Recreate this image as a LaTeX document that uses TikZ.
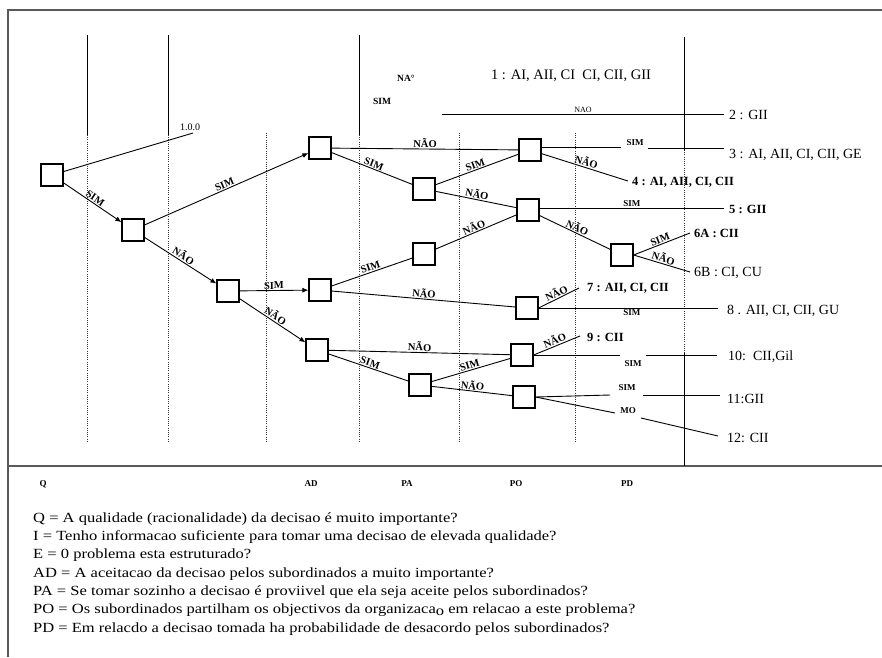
\documentclass[tikz,border=0pt]{standalone}
\usepackage{fontspec}
\setmainfont{Liberation Serif}
\newfontfamily\qfont[FakeStretch=1.18]{Liberation Serif}
\usetikzlibrary{arrows.meta}
\begin{document}
\begin{tikzpicture}[x=1pt,y=-1pt,
  box/.style={draw, line width=1.2pt, minimum size=22pt, inner sep=0pt},
  conn/.style={line width=0.9pt},
  arr/.style={conn, -{Latex[length=6pt,width=5pt]}},
  lab/.style={font=\fontsize{10.5}{11}\selectfont\bfseries, sloped, above, inner sep=1pt},
  small/.style={font=\fontsize{9}{10}\selectfont\bfseries, inner sep=1pt},
  outc/.style={anchor=west, font=\fontsize{14}{15}\selectfont, inner sep=0pt},
  outb/.style={anchor=west, font=\fontsize{12.5}{14}\selectfont\bfseries, inner sep=0pt},
  qtext/.style={anchor=base west, font=\qfont\fontsize{14}{15}\selectfont, inner sep=0pt},
  vdot/.style={line width=0.8pt, dash pattern=on 1pt off 1.2pt, black!80},
  vsol/.style={line width=0.9pt},
  framel/.style={line width=1.6pt, black!65},
]
\useasboundingbox (0,0) rectangle (882,657);
% frame
\coordinate (f1) at (882,10); \coordinate (f2) at (8,10); \coordinate (f3) at (8,657);
\coordinate (f4) at (8,466); \coordinate (f5) at (882,466);
\draw[framel] (f1) -- (f2) -- (f3);
\draw[framel] (f4) -- (f5);
% vertical lines
\foreach \x in {87,168,359}{
  \draw[vsol] (\x,35) -- (\x,135);
  \draw[vdot] (\x,135) -- (\x,443);
}
\draw[vdot] (266,133) -- (266,443);
\draw[vdot] (459,133) -- (459,443);
\draw[vdot] (575,133) -- (575,443);
\draw[vsol] (684,37) -- (684,150);
\draw[vdot] (684,150) -- (684,353);
\draw[vsol] (684,353) -- (684,466);
% nodes
\node[box] (n1) at (52,175) {};
\node[box] (n2) at (133,230) {};
\node[box] (n3) at (320,148) {};
\node[box] (n4) at (424,189) {};
\node[box] (n5) at (228,291) {};
\node[box] (n6) at (320,290) {};
\node[box] (n7) at (317,350) {};
\node[box] (n8) at (424,254) {};
\node[box] (n9) at (420,385) {};
\node[box] (n10) at (530,150) {};
\node[box] (n11) at (528,210) {};
\node[box] (n12) at (622,255) {};
\node[box] (n13) at (527,308) {};
\node[box] (n14) at (522,355) {};
\node[box] (n15) at (524,397) {};
% tree connectors
\coordinate (c100) at (193,133);
\draw[conn] (n1) -- (c100);
\node[font=\fontsize{10}{10}\selectfont] (t100) at (190,127) {1.0.0};
\draw[arr] (n1) -- node[lab]{SIM} (n2);
\draw[arr] (n2) -- node[lab]{SIM} (n3);
\draw[arr] (n2) -- node[lab]{NÃO} (n5);
\draw[arr] (n5) -- node[lab]{SIM} (n6);
\draw[arr] (n5) -- node[lab]{NÃO} (n7);
\draw[conn] (n3) -- node[lab]{NÃO} (n10);
\draw[conn] (n3) -- node[lab]{SIM} (n4);
\draw[conn] (n4) -- node[lab]{SIM} (n10);
\draw[conn] (n4) -- node[lab]{NÃO} (n11);
\draw[conn] (n8) -- node[lab]{NÃO} (n11);
\draw[conn] (n6) -- node[lab]{SIM} (n8);
\draw[conn] (n6) -- node[lab]{NÃO} (n13);
\draw[conn] (n7) -- node[lab]{NÃO} (n14);
\draw[conn] (n7) -- node[lab]{SIM} (n9);
\draw[conn] (n9) -- node[lab]{SIM} (n14);
\draw[conn] (n9) -- node[lab]{NÃO} (n15);
\draw[conn] (n11) -- node[lab]{NÃO} (n12);
% top texts
\node[small, font=\fontsize{9.5}{10}\selectfont\bfseries] (tna) at (406,78) {NA°};
\node[small, font=\fontsize{9.5}{10}\selectfont\bfseries] (tsim0) at (382,101) {SIM};
\node[font=\fontsize{14.5}{15}\selectfont] (t1) at (571,76) {1 : AI, AII, CI\ \ CI, CII, GII};
% outcome 2
\coordinate (s2) at (442,114); \coordinate (e2) at (724,114);
\draw[conn] (s2) -- node[small, above, font=\fontsize{8}{8}\selectfont]{NAO} (e2);
\node[outc] (t2) at (729,115) {2 : GII};
% outcome 3
\coordinate (g3a) at (621,147); \coordinate (g3b) at (648,148); \coordinate (e3) at (724,148);
\draw[conn] ([yshift=3pt]n10.east) -- (g3a);
\draw[conn] (g3b) -- (e3);
\node[small] (l3) at (635,143) {SIM};
\node[outc] (t3) at (729,155) {3 : AI, AII, CI, CII, GE};
% outcome 4
\coordinate (e4) at (628,181);
\draw[conn] (n10) -- node[lab]{NÃO} (e4);
\node[outb] (t4) at (632,182) {4 : AI, AII, CI, CII};
% outcome 5
\coordinate (e5) at (724,208);
\draw[conn] ([yshift=2pt]n11.east) -- node[small, above]{SIM} (e5);
\node[outb] (t5) at (729,209) {5 : GII};
% outcome 6A/6B
\coordinate (e6a) at (690,233); \coordinate (e6b) at (690,272);
\draw[conn] (n12.east) -- node[lab]{SIM} (e6a);
\draw[conn] (n12.east) -- node[lab]{NÃO} (e6b);
\node[outb] (t6a) at (694,233) {6A : CII};
\node[outc] (t6b) at (694,273) {6B : CI, CU};
% outcome 7/8
\coordinate (e7) at (579,288); \coordinate (e8) at (718,308);
\draw[conn] (n13.east) -- node[lab]{NÃO} (e7);
\draw[conn] (n13.east) -- node[small, below, pos=0.52]{SIM} (e8);
\node[outb] (t7) at (587,288) {7 : AII, CI, CII};
\node[outc] (t8) at (727,311) {8 . AII, CI, CII, GU};
% outcome 9/10
\coordinate (e9) at (580,336);
\draw[conn] (n14.east) -- node[lab]{NÃO} (e9);
\node[outb] (t9) at (587,337) {9 : CII};
\coordinate (g10a) at (620,355); \coordinate (g10b) at (646,355); \coordinate (e10) at (717,355);
\draw[conn] (n14.east) -- (g10a);
\draw[conn] (g10b) -- (e10);
\node[small] (l10) at (633,364) {SIM};
\node[outc] (t10) at (728,357) {10:\ \ CII,Gil};
% outcome 11
\coordinate (g11a) at (610,395); \coordinate (g11b) at (643,395); \coordinate (e11) at (720,395);
\draw[conn] (n15.east) -- (g11a);
\draw[conn] (g11b) -- (e11);
\node[small] (l11) at (627,388) {SIM};
\node[outc] (t11) at (727,399) {11:GII};
% outcome 12
\coordinate (g12a) at (615,413); \coordinate (g12b) at (641,418); \coordinate (e12) at (718,436);
\draw[conn] (n15.east) -- (g12a);
\draw[conn] (g12b) -- (e12);
\node[small] (l12) at (628,411) {MO};
\node[outc] (t12) at (727,438) {12: CII};
% axis labels
\node[small] (aq) at (43,484) {Q};
\node[small] (aad) at (311,484) {AD};
\node[small] (apa) at (407,484) {PA};
\node[small] (apo) at (516,484) {PO};
\node[small] (apd) at (627,484) {PD};
% questions
\node[qtext] (q1) at (33,522) {Q = A qualidade (racionalidade) da decisao é muito importante?};
\node[qtext] (q2) at (33,540) {I = Tenho informacao suficiente para tomar uma decisao de elevada qualidade?};
\node[qtext] (q3) at (33,558) {E = 0 problema esta estruturado?};
\node[qtext] (q4) at (33,577) {AD = A aceitacao da decisao pelos subordinados a muito importante?};
\node[qtext] (q5) at (33,595) {PA = Se tomar sozinho a decisao é proviivel que ela seja aceite pelos subordinados?};
\node[qtext] (q6) at (33,613) {PO = Os subordinados partilham os objectivos da organizaca\raisebox{-2pt}{o} em relacao a este problema?};
\node[qtext] (q7) at (33,632) {PD = Em relacdo a decisao tomada ha probabilidade de desacordo pelos subordinados?};
\end{tikzpicture}
\end{document}
